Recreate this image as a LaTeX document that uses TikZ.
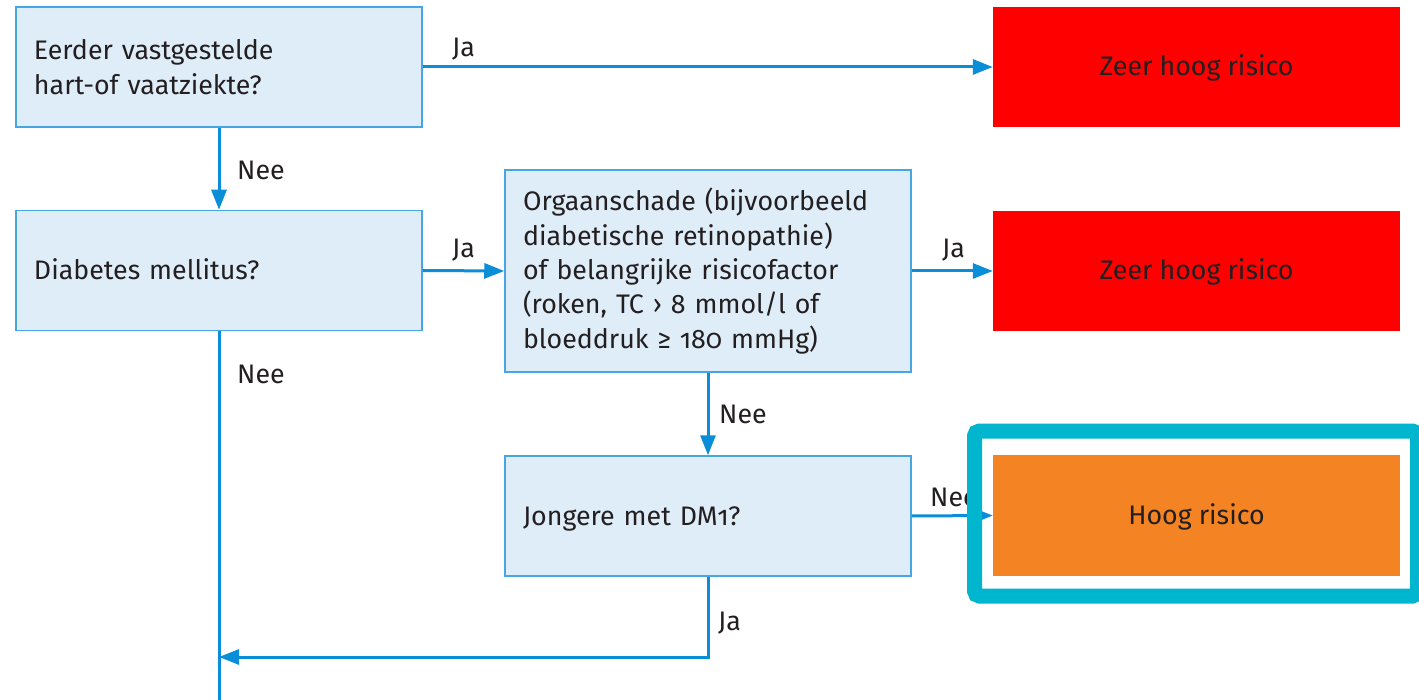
\documentclass[tikz,border=0pt]{standalone}
\usepackage{fontspec}
\setmainfont{Fira Sans}[Numbers=OldStyle]
\usetikzlibrary{arrows.meta}
\definecolor{qfill}{HTML}{DFEDF9}
\definecolor{qborder}{HTML}{45A6E3}
\definecolor{conncol}{HTML}{0B8ED8}
\definecolor{riskred}{HTML}{FF0000}
\definecolor{riskorange}{HTML}{F48324}
\definecolor{hlcol}{HTML}{00B5CE}
\definecolor{txt}{HTML}{231F20}
\tikzset{
  txtfont/.style={font=\fontsize{26.8}{34.3}\selectfont, text=txt},
  qbox/.style={txtfont, draw=qborder, fill=qfill, line width=1.5pt, minimum width=406pt,
    minimum height=120pt, text width=370pt, align=left, inner xsep=18pt, inner ysep=0pt},
  oneline/.style={text height=18pt, text depth=0pt},
  riskbox/.style={txtfont, minimum width=407pt, minimum height=120pt, inner sep=0pt, align=center,
    oneline},
  conn/.style={draw=conncol, line width=3pt, -{Triangle[length=20pt,width=15pt]}},
  plain/.style={draw=conncol, line width=3pt},
  lab/.style={txtfont, anchor=base west, inner sep=0pt},
  hl/.style={draw=hlcol, line width=15pt, rounded corners=5pt}
}
\begin{document}
\begin{tikzpicture}[x=1pt,y=-1pt]
\useasboundingbox (0,0) rectangle (1419,700);
\fill[white] (0,0) rectangle (1419,700);
% question boxes
\node[qbox] (b1) at (219,67) {Eerder vastgestelde\\hart-of vaatziekte?};
\node[qbox, oneline] (b2) at (219,270.5) {Diabetes mellitus?};
\node[qbox, minimum height=202pt] (b3) at (708,271) {Orgaanschade (bijvoorbeeld\\diabetische retinopathie)\\of belangrijke risicofactor\\(roken, TC › 8 mmol/l of\\bloeddruk ≥ 180 mmHg)};
\node[qbox, oneline] (b4) at (708,516) {Jongere met DM1?};
% risk boxes
\node[riskbox, fill=riskred] (r1) at (1196.5,67) {Zeer hoog risico};
\node[riskbox, fill=riskred] (r2) at (1196.5,271) {Zeer hoog risico};
\node[riskbox, fill=riskorange, minimum height=121pt] (r3) at (1196.5,515.5) {Hoog risico};
% helper coordinates
\coordinate (join) at (219,657);
\coordinate (bottom) at (219,705);
% connectors
\draw[conn] (b1.east) -- (r1.west);
\draw[conn] (b1.south) -- (b2.north);
\draw[conn] (b2.east) -- (b3.west);
\draw[conn] (b3.east) -- (r2.west);
\draw[conn] (b3.south) -- (b4.north);
\draw[conn] (b4.east) -- (r3.west);
\draw[conn] (b4.south) |- (join);
\draw[plain] (b2.south) -- (bottom);
% labels
\node[lab] (l1) at (452,57) {Ja};
\node[lab] (l2) at (237,180) {Nee};
\node[lab] (l3) at (452,258) {Ja};
\node[lab] (l4) at (942,258) {Ja};
\node[lab] (l5) at (719,424) {Nee};
\node[lab] (l6) at (930,506) {Nee};
\node[lab] (l7) at (718,630) {Ja};
\node[lab] (l8) at (237,384) {Nee};
% highlight frame
\draw[hl] (974.5,431) rectangle (1417.5,596);
\end{tikzpicture}
\end{document}
